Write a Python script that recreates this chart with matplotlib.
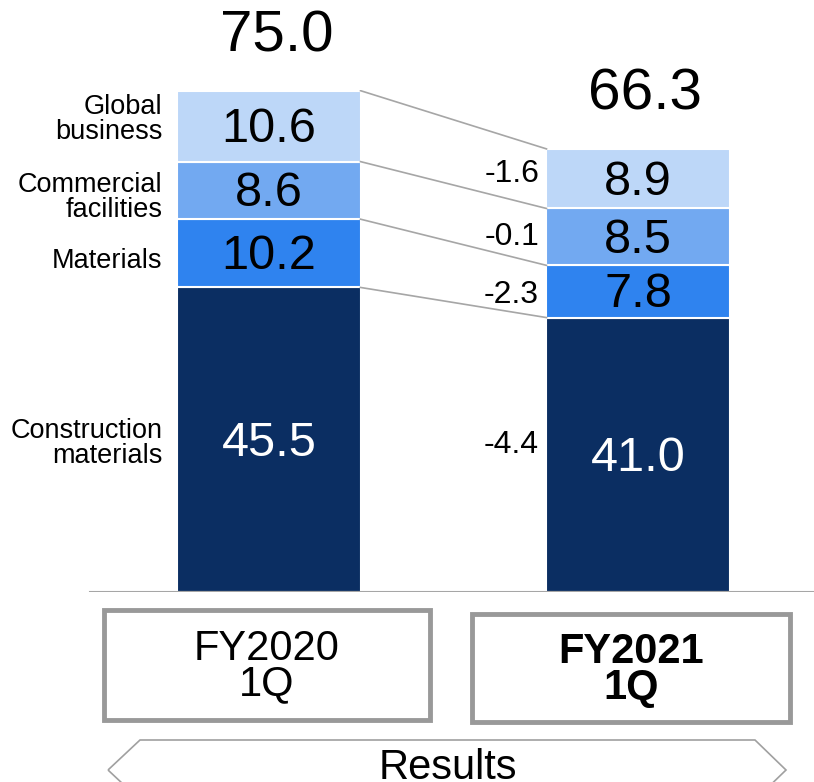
import matplotlib
matplotlib.use("Agg")
import matplotlib.pyplot as plt
from matplotlib.patches import Rectangle, Polygon
import numpy as np

plt.rcParams['font.family'] = ['Liberation Sans', 'DejaVu Sans']

# data
periods = ["FY2020\n1Q", "FY2021\n1Q"]
segments = ["Construction\nmaterials", "Materials", "Commercial\nfacilities", "Global\nbusiness"]
fy2020 = [45.5, 10.2, 8.6, 10.6]
fy2021 = [41.0, 7.8, 8.5, 8.9]
totals = [75.0, 66.3]
deltas = ["-4.4", "-2.3", "-0.1", "-1.6"]
colors = ["#0b2e62", "#2f83ef", "#72a9f1", "#bdd7f8"]
text_colors = ["white", "black", "black", "black"]
name_shift = [-0.6, -1.2, -1.0, 1.0]   # nudges for the segment names
delta_shift = [1.5, -0.5, 0.0, 0.7]

W, H = 814, 782
fig = plt.figure(figsize=(W / 100, H / 100), dpi=100)

# main axes: y in value units, baseline at pixel 592, 75 at pixel 90
base_px, top_px = 592, 90
ax = fig.add_axes([0, (H - base_px) / H, 1, (base_px - top_px) / H])
ax.set_ylim(0, 75)
c1, c2, pitch = 269, 638, 369
ax.set_xlim(-c1 / pitch, (W - c1) / pitch)
ax.axis("off")

xpos = [0, 1]
width = 0.496
b1 = np.concatenate([[0], np.cumsum(fy2020)[:-1]])
b2 = np.concatenate([[0], np.cumsum(fy2021)[:-1]])
for i in range(len(segments)):
    ax.bar(xpos, [fy2020[i], fy2021[i]], bottom=[b1[i], b2[i]], width=width,
           color=colors[i], edgecolor="white", linewidth=1.5)
    ax.text(xpos[0], b1[i] + fy2020[i] / 2 - 0.5, f"{fy2020[i]:.1f}", ha="center", va="center",
            fontsize=35, color=text_colors[i])
    ax.text(xpos[1], b2[i] + fy2021[i] / 2 - 0.5, f"{fy2021[i]:.1f}", ha="center", va="center",
            fontsize=35, color=text_colors[i])
    # connector lines
    ax.plot([xpos[0] + width / 2, xpos[1] - width / 2],
            [b1[i] + fy2020[i], b2[i] + fy2021[i]], color="#a6a6a6", lw=1.2)
    # segment names
    ax.text(xpos[0] - width / 2 - 0.04, b1[i] + fy2020[i] / 2 + name_shift[i], segments[i],
            ha="right", va="center", fontsize=19.5, linespacing=0.95)
    # change labels
    ax.text(xpos[1] - width / 2 - 0.02, b2[i] + fy2021[i] / 2 + delta_shift[i], deltas[i],
            ha="right", va="center", fontsize=23)

for x, t in zip(xpos, totals):
    ax.text(x + 0.02, t + 8.0, f"{t:.1f}", ha="center", va="center", fontsize=42)

ax.axhline(0, xmin=90 / W, xmax=1, color="#a6a6a6", lw=1.5)

# overlay in pixel coords for the boxes and the arrow
ov = fig.add_axes([0, 0, 1, 1])
ov.set_xlim(0, W)
ov.set_ylim(H, 0)
ov.axis("off")

boxes = [(104, 610, 326, 110), (472, 614, 318, 108)]
for (bx, by, bw, bh), label, weight in zip(boxes, periods, ["normal", "bold"]):
    ov.add_patch(Rectangle((bx, by), bw, bh, fill=False, edgecolor="#999999", lw=3.5))
    ov.text(bx + bw / 2, by + bh / 2 + 2, label, ha="center", va="center",
            fontsize=30, fontweight=weight, linespacing=0.85)

arrow = Polygon([(108, 770), (140, 740), (755, 740), (786, 770), (755, 800), (140, 800)],
                closed=True, fill=False, edgecolor="#a0a0a0", lw=1.2)
ov.add_patch(arrow)
ov.text(448, 768, "Results", ha="center", va="center", fontsize=30)

fig.savefig("out.png", dpi=100)
